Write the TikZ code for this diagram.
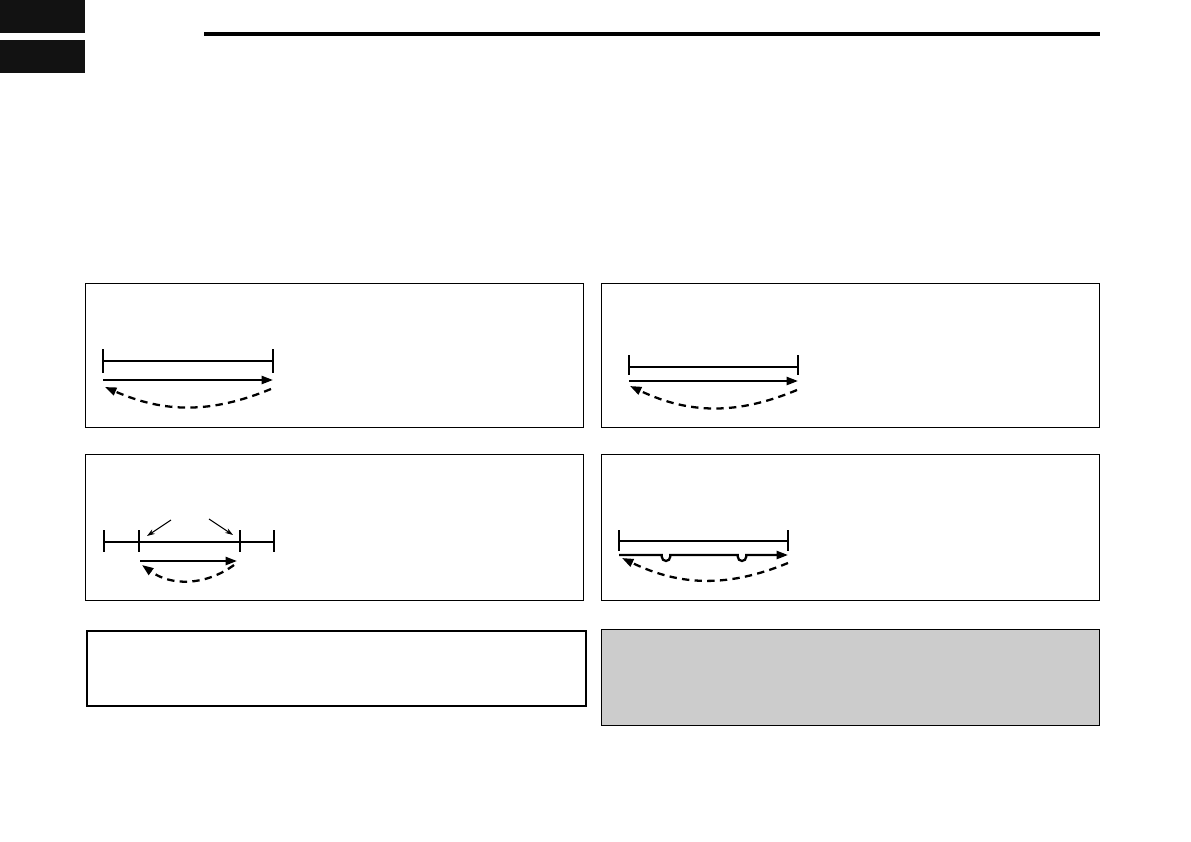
\documentclass[tikz,border=0pt]{standalone}
\usepackage{tikz}
\usetikzlibrary{arrows.meta, positioning}
\tikzset{
    tab/.style={rectangle, draw=none, fill=black!93, minimum width=1.7cm, minimum height=0.66cm, anchor=north west, inner sep=0pt},
    panel/.style={rectangle, draw=black, line width=0.8pt, fill=white, minimum width=9.96cm, anchor=north west, inner sep=0pt},
    span/.style={line width=1.3pt},
    arrow/.style={line width=1.3pt, -{Triangle[length=6.5pt,width=4.6pt]}},
    back/.style={line width=1.3pt, dash pattern=on 4.2pt off 3pt, -{Triangle[length=6.5pt,width=4.6pt]}},
    pointer/.style={line width=0.6pt, -{Stealth[length=4.5pt,width=3pt]}}
}

\begin{document}
\begin{tikzpicture}[x=0.02cm, y=-0.02cm]
    \useasboundingbox (0,0) rectangle (1191,842);

    % header
    \node (tabA) [tab] at (0,0) {};
    \node (tabB) [tab] at (0,40) {};
    \coordinate (ruleL) at (204,34);
    \coordinate (ruleR) at (1100,34);
    \draw [line width=2pt] (ruleL) -- (ruleR);

    % frames
    \node (tl) [panel, minimum height=2.88cm] at (85,283) {};
    \node (tr) [panel, minimum height=2.88cm] at (601,283) {};
    \node (ml) [panel, minimum height=2.92cm] at (85,454) {};
    \node (mr) [panel, minimum height=2.92cm] at (601,454) {};
    \node (bl) [panel, line width=1.3pt, minimum width=9.98cm, minimum height=1.5cm] at (86,630) {};
    \node (br) [panel, fill=black!20, minimum height=1.92cm] at (601,629) {};

    % top left
    \coordinate (tlA) at (103,361);
    \coordinate (tlB) at (273,361);
    \draw [span] (tlA) -- (tlB);
    \draw [span] (103,349) -- (103,373);
    \draw [span] (273,349) -- (273,373);
    \coordinate (tlS) at (103,380);
    \coordinate (tlE) at (273,380);
    \draw [arrow] (tlS) -- (tlE);
    \coordinate (tlR) at (271,389);
    \coordinate (tlL) at (105,387);
    \draw [back] (tlR) to[bend left=23] (tlL);

    % top right
    \coordinate (trA) at (629,367);
    \coordinate (trB) at (798,367);
    \draw [span] (trA) -- (trB);
    \draw [span] (629,355) -- (629,375);
    \draw [span] (798,355) -- (798,375);
    \coordinate (trS) at (629,381);
    \coordinate (trE) at (798,381);
    \draw [arrow] (trS) -- (trE);
    \coordinate (trR) at (797,390);
    \coordinate (trL) at (630,386);
    \draw [back] (trR) to[bend left=24] (trL);

    % middle left
    \coordinate (mlA) at (104,542);
    \coordinate (mlB) at (274,542);
    \draw [span] (mlA) -- (mlB);
    \foreach \x in {104,139,240,274}
        \draw [span] (\x,530) -- (\x,552);
    \coordinate (mlP) at (171,520);
    \coordinate (mlQ) at (209,519);
    \coordinate (mlM) at (147,536);
    \coordinate (mlN) at (233,535);
    \draw [pointer] (mlP) -- (mlM);
    \draw [pointer] (mlQ) -- (mlN);
    \coordinate (mlS) at (140,561);
    \coordinate (mlE) at (237,561);
    \draw [arrow] (mlS) -- (mlE);
    \coordinate (mlR) at (234,565);
    \coordinate (mlL) at (142,565);
    \draw [back] (mlR) to[bend left=36] (mlL);

    % middle right
    \coordinate (mrA) at (619,541);
    \coordinate (mrB) at (788,541);
    \draw [span] (mrA) -- (mrB);
    \draw [span] (619,530) -- (619,551);
    \draw [span] (788,530) -- (788,551);
    \coordinate (mrS) at (619,555);
    \coordinate (mrE) at (788,555);
    \coordinate (dipA) at (666,555);
    \coordinate (dipB) at (742,555);
    \draw [arrow] (mrS) -- ([xshift=-2.4pt]dipA) -- ++(0,-1pt) arc[start angle=180, end angle=360, radius=2.4pt] -- ++(0,1pt)
        -- ([xshift=-2.4pt]dipB) -- ++(0,-1pt) arc[start angle=180, end angle=360, radius=2.4pt] -- ++(0,1pt) -- (mrE);
    \coordinate (mrR) at (788,563);
    \coordinate (mrL) at (622,558);
    \draw [back] (mrR) to[bend left=24] (mrL);
\end{tikzpicture}
\end{document}
